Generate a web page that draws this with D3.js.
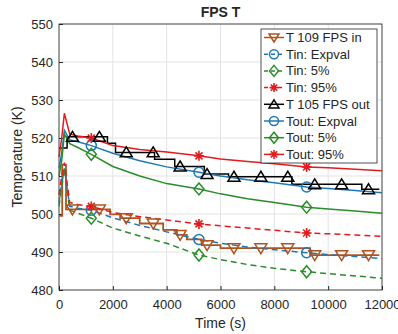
<!DOCTYPE html>
<html lang="en">
<head>
<meta charset="UTF-8">
<title>FPS T</title>
<script src="https://d3js.org/d3.v7.min.js"></script>
<style>
  body { margin: 0; background: #fff; }
  text { font-family: "Liberation Sans", Arial, sans-serif; fill: #262626; }
</style>
</head>
<body>
<div id="chart"></div>
<script>
// shared time grid for the smooth (distribution) series, s
const times = [0, 100, 200, 400, 700, 1200, 2000, 3000, 4000, 5200, 6000, 7000, 8000, 9200, 10000, 11000, 12000];

const toutExp = [512, 516, 522, 519.5, 519, 518, 516, 514, 512.4, 511, 510, 509, 508.2, 507.1, 506.7, 506.2, 505.6];
const tout5   = [510, 514, 521, 518.5, 517.5, 515.7, 512.5, 510, 508, 506.6, 505.3, 504, 503, 501.8, 501.3, 500.8, 500.2];
const tout95  = [515, 520, 526.5, 521, 520.5, 520, 518, 517, 516.3, 515.3, 514.5, 513.8, 513.2, 512.4, 512.2, 511.8, 511.4];

const tinExp = [503, 508, 512, 502, 501.5, 501, 499, 497, 495.3, 493.3, 492.3, 491.3, 490.6, 489.8, 489.3, 488.8, 488.3];
const tin5   = [502, 507, 512, 501, 500.2, 498.9, 496.3, 494.2, 492.3, 489.2, 488, 486.7, 485.7, 484.8, 484.3, 483.7, 483.1];
const tin95  = [505, 510, 513.5, 503, 502.5, 502, 500.4, 499.3, 498.4, 497.4, 496.9, 496.3, 495.7, 495, 494.8, 494.5, 494.1];

// measured step series: [time, value]
const fpsOut = [[0, 517.4], [300, 520.3], [1800, 518.6], [2100, 516.2], [3550, 514.4], [4300, 512.5],
                [5400, 510.5], [6300, 509.8], [8650, 507.8], [11250, 506.5], [11900, 506.5]];
const fpsIn = [[0, 499.5], [120, 513], [260, 501.2], [1900, 499.9], [2270, 498.9], [3000, 497.5],
               [3870, 495.8], [4380, 494.5], [4750, 493.3], [5300, 491.8], [6000, 491], [9330, 489.2], [11900, 489.2]];

const markTimesStep = [500, 1500, 2500, 3500, 4500, 5500, 6500, 7500, 8500, 9500, 10500, 11500];
const markTimesDist = [1200, 5200, 9200];

const xTicks = [0, 2000, 4000, 6000, 8000, 10000, 12000];
const yTicks = [480, 490, 500, 510, 520, 530, 540, 550];

const legendLabels = ["T 109 FPS in", "Tin: Expval", "Tin: 5%", "Tin: 95%",
                      "T 105 FPS out", "Tout: Expval", "Tout: 5%", "Tout: 95%"];

const col = { brown: "#b0541f", blue: "#1f77b4", green: "#2a8c2a", red: "#e41a1c", black: "#000" };

const W = 398, H = 334;
const margin = { top: 24, right: 16, bottom: 44, left: 59 };
const width = W - margin.left - margin.right,
      height = H - margin.top - margin.bottom;

const svg = d3.select("#chart").append("svg")
    .attr("width", W).attr("height", H);

const g = svg.append("g").attr("transform", `translate(${margin.left},${margin.top})`);

const x = d3.scaleLinear().domain([0, 12000]).range([0, width]);
const y = d3.scaleLinear().domain([480, 550]).range([height, 0]);

// grid
g.append("g").selectAll("line").data(xTicks).join("line")
    .attr("x1", d => x(d)).attr("x2", d => x(d)).attr("y1", 0).attr("y2", height)
    .attr("stroke", "#e3e3e3");
g.append("g").selectAll("line").data(yTicks).join("line")
    .attr("y1", d => y(d)).attr("y2", d => y(d)).attr("x1", 0).attr("x2", width)
    .attr("stroke", "#e3e3e3");

// axes
const xAxis = g.append("g").attr("transform", `translate(0,${height})`)
    .call(d3.axisBottom(x).tickValues(xTicks).tickFormat(d3.format("d")).tickSize(-4).tickPadding(10));
const yAxis = g.append("g")
    .call(d3.axisLeft(y).tickValues(yTicks).tickFormat(d3.format("d")).tickSize(-4).tickPadding(6));
[xAxis, yAxis].forEach(a => {
    a.selectAll("text").style("font-size", "13px").attr("fill", "#262626");
    a.selectAll("line").attr("stroke", "#262626");
    a.select(".domain").remove();
});
g.append("rect").attr("width", width).attr("height", height)
    .attr("fill", "none").attr("stroke", "#262626").attr("stroke-width", 0.8);

// marker drawing
function marker(sel, type, color, size) {
    const s = size || 5;
    if (type === "circle") {
        sel.append("circle").attr("r", s).attr("fill", "none").attr("stroke", color).attr("stroke-width", 1.5);
    } else if (type === "diamond") {
        sel.append("path").attr("d", `M0,${-s - 1}L${s},0L0,${s + 1}L${-s},0Z`)
            .attr("fill", "none").attr("stroke", color).attr("stroke-width", 1.5);
    } else if (type === "up") {
        sel.append("path").attr("d", `M0,${-s}L${s + 0.5},${s * 0.8}L${-s - 0.5},${s * 0.8}Z`)
            .attr("fill", "none").attr("stroke", color).attr("stroke-width", 1.5);
    } else if (type === "down") {
        sel.append("path").attr("d", `M0,${s}L${s + 0.5},${-s * 0.8}L${-s - 0.5},${-s * 0.8}Z`)
            .attr("fill", "none").attr("stroke", color).attr("stroke-width", 1.5);
    } else if (type === "star") {
        const r = s, k = s * 0.7;
        sel.append("path").attr("d", `M${-r},0H${r}M0,${-r}V${r}M${-k},${-k}L${k},${k}M${-k},${k}L${k},${-k}`)
            .attr("stroke", color).attr("stroke-width", 1.6);
    }
}

const smooth = d3.line().x(d => x(d[0])).y(d => y(d[1]));
const step = d3.line().x(d => x(d[0])).y(d => y(d[1])).curve(d3.curveStepAfter);

const distSeries = [
    { vals: tinExp, color: col.blue, dash: "6,4", m: "circle" },
    { vals: tin5, color: col.green, dash: "6,4", m: "diamond" },
    { vals: tin95, color: col.red, dash: "6,4", m: "star" },
    { vals: toutExp, color: col.blue, dash: null, m: "circle" },
    { vals: tout5, color: col.green, dash: null, m: "diamond" },
    { vals: tout95, color: col.red, dash: null, m: "star" }
];

function stepValueAt(arr, t) {
    let v = arr[0][1];
    arr.forEach(p => { if (p[0] <= t) v = p[1]; });
    return v;
}

// step series: FPS in
g.append("path").datum(fpsIn).attr("d", step)
    .attr("fill", "none").attr("stroke", col.brown).attr("stroke-width", 1.8);

distSeries.slice(0, 3).forEach(drawDist);

// step series: FPS out
g.append("path").datum(fpsOut).attr("d", step)
    .attr("fill", "none").attr("stroke", col.black).attr("stroke-width", 1.5);

distSeries.slice(3).forEach(drawDist);

function drawDist(s) {
    const pts = times.map((t, i) => [t, s.vals[i]]);
    g.append("path").datum(pts).attr("d", smooth)
        .attr("fill", "none").attr("stroke", s.color).attr("stroke-width", 1.5)
        .attr("stroke-dasharray", s.dash);
    pts.filter(p => markTimesDist.includes(p[0])).forEach(p => {
        g.append("g").attr("transform", `translate(${x(p[0])},${y(p[1])})`)
            .call(sel => marker(sel, s.m, s.color, 5));
    });
}

markTimesStep.forEach(t => {
    g.append("g").attr("transform", `translate(${x(t)},${y(stepValueAt(fpsIn, t))})`)
        .call(sel => marker(sel, "down", col.brown, 5.5));
    g.append("g").attr("transform", `translate(${x(t)},${y(stepValueAt(fpsOut, t))})`)
        .call(sel => marker(sel, "up", col.black, 5.5));
});

// titles
svg.append("text").attr("x", margin.left + width / 2).attr("y", 17)
    .attr("text-anchor", "middle").style("font-size", "14px").style("font-weight", "bold")
    .attr("fill", "#000").text("FPS T");
svg.append("text").attr("x", margin.left + width / 2).attr("y", 328)
    .attr("text-anchor", "middle").style("font-size", "14px").text("Time (s)");
svg.append("text").attr("transform", `translate(22,${margin.top + height / 2}) rotate(-90)`)
    .attr("text-anchor", "middle").style("font-size", "14px").text("Temperature (K)");

// legend
const legendStyles = [
    { color: col.brown, dash: null, m: "down" },
    { color: col.blue, dash: "4,3", m: "circle" },
    { color: col.green, dash: "4,3", m: "diamond" },
    { color: col.red, dash: "4,3", m: "star" },
    { color: col.black, dash: null, m: "up" },
    { color: col.blue, dash: null, m: "circle" },
    { color: col.green, dash: null, m: "diamond" },
    { color: col.red, dash: null, m: "star" }
];
const lg = svg.append("g").attr("transform", "translate(261,29)");
lg.append("rect").attr("width", 116).attr("height", 134)
    .attr("fill", "#fff").attr("stroke", "#262626").attr("stroke-width", 0.8);
legendLabels.forEach((lab, i) => {
    const row = lg.append("g").attr("transform", `translate(0,${8.5 + i * 16.7})`);
    const st = legendStyles[i];
    row.append("line").attr("x1", 3).attr("x2", 23).attr("y1", 0).attr("y2", 0)
        .attr("stroke", st.color).attr("stroke-width", 1.5).attr("stroke-dasharray", st.dash);
    row.append("g").attr("transform", "translate(13,0)").call(sel => marker(sel, st.m, st.color, 4.5));
    row.append("text").attr("x", 25).attr("y", 4.5).style("font-size", "13px").attr("fill", "#000").text(lab);
});
</script>
</body>
</html>
